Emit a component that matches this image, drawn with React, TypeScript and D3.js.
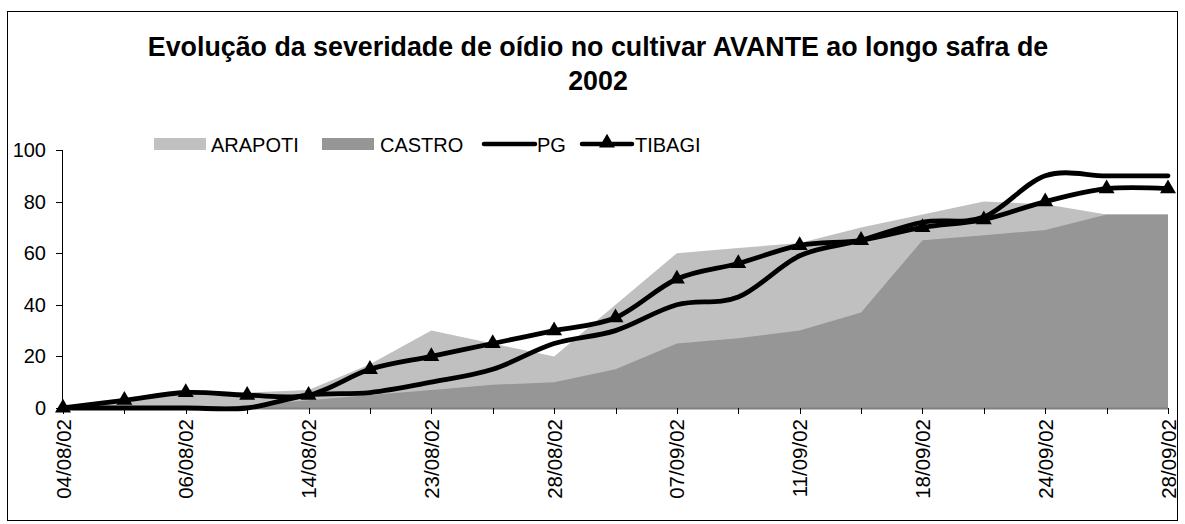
import React from 'react';
import * as d3 from 'd3';

const tickLabels = ["04/08/02", "06/08/02", "14/08/02", "23/08/02", "28/08/02", "07/09/02", "11/09/02", "18/09/02", "24/09/02", "28/09/02"];
const arapoti = [0, 4, 6, 6, 7, 17, 30, 25, 20, 40, 60, 62, 64, 70, 75, 80, 79, 75, 75];
const castro = [0, 0, 0, 1, 3, 5, 7, 9, 10, 15, 25, 27, 30, 37, 65, 67, 69, 75, 75];
const pg = [0, 0, 0, 0, 5, 6, 10, 15, 25, 30, 40, 43, 59, 65, 72, 74, 90, 90, 90];
const tibagi = [0, 3, 6, 5, 5, 15, 20, 25, 30, 35, 50, 56, 63, 65, 70, 73, 80, 85, 85];
const yTicks = [0, 20, 40, 60, 80, 100];
const titleLines = ["Evolução da severidade de oídio no cultivar AVANTE ao longo safra de", "2002"];

const FONT = "'Liberation Sans', Arial, sans-serif";

export default function App() {
  const W = 1185, H = 524;
  const n = pg.length;
  const x = d3.scaleLinear().domain([0, n - 1]).range([63, 1168]);
  const y = d3.scaleLinear().domain([0, 100]).range([408, 150]);

  const area = d3.area<number>().x((_, i) => x(i)).y0(y(0)).y1(d => y(d));
  const line = d3.line<number>().x((_, i) => x(i)).y(d => y(d)).curve(d3.curveCardinal.tension(0));
  const tri = d3.symbol().type(d3.symbolTriangle).size(110)();

  return (
    <svg width={W} height={H} style={{ position: 'absolute', left: 0, top: 0, background: '#fff' }} fontFamily={FONT}>
      <rect x={7.5} y={11.5} width={1170} height={509} fill="#fff" stroke="#000" strokeWidth={1} />
      {titleLines.map((t, i) => (
        <text key={i} x={598} y={56 + i * 34} textAnchor="middle" fontSize={26.8} fontWeight="bold">{t}</text>
      ))}
      {/* legend */}
      <rect x={154} y={138} width={52} height={12} fill="#C0C0C0" />
      <text x={211} y={145} dominantBaseline="central" fontSize={20}>ARAPOTI</text>
      <rect x={322} y={138} width={52} height={12} fill="#969696" />
      <text x={380} y={145} dominantBaseline="central" fontSize={20}>CASTRO</text>
      <line x1={484} x2={535} y1={144} y2={144} stroke="#000" strokeWidth={4.5} strokeLinecap="round" />
      <text x={537} y={145} dominantBaseline="central" fontSize={20}>PG</text>
      <line x1={582} x2={632} y1={144} y2={144} stroke="#000" strokeWidth={4.5} strokeLinecap="round" />
      <path d={tri!} transform={`translate(607,143)`} fill="#000" />
      <text x={635} y={145} dominantBaseline="central" fontSize={20}>TIBAGI</text>

      {/* areas */}
      <path d={area(arapoti)!} fill="#C0C0C0" />
      <path d={area(castro)!} fill="#969696" />

      {/* axes */}
      <line x1={62.5} x2={62.5} y1={150} y2={408} stroke="#000" strokeWidth={1} />
      {yTicks.map(v => (
        <g key={v}>
          <line x1={56} x2={62.5} y1={Math.round(y(v)) + 0.5} y2={Math.round(y(v)) + 0.5} stroke="#000" strokeWidth={1} />
          <text x={46} y={y(v)} textAnchor="end" dominantBaseline="central" fontSize={20}>{v}</text>
        </g>
      ))}
      <line x1={62} x2={1168} y1={408.5} y2={408.5} stroke="#808080" strokeWidth={2} />
      {pg.map((_, i) => (
        <line key={i} x1={Math.round(x(i)) + 0.5} x2={Math.round(x(i)) + 0.5} y1={408} y2={414} stroke="#000" strokeWidth={1} />
      ))}
      {tickLabels.map((t, k) => (
        <text key={t} transform={`translate(${x(k * 2)},419) rotate(-90)`} textAnchor="end" dominantBaseline="central" fontSize={20.5}>{t}</text>
      ))}

      {/* lines */}
      <path d={line(pg)!} fill="none" stroke="#000" strokeWidth={4.8} strokeLinejoin="round" strokeLinecap="round" />
      <path d={line(tibagi)!} fill="none" stroke="#000" strokeWidth={4.8} strokeLinejoin="round" strokeLinecap="round" />
      {tibagi.map((v, i) => (
        <path key={i} d={tri!} transform={`translate(${x(i)},${y(v)})`} fill="#000" />
      ))}
    </svg>
  );
}
